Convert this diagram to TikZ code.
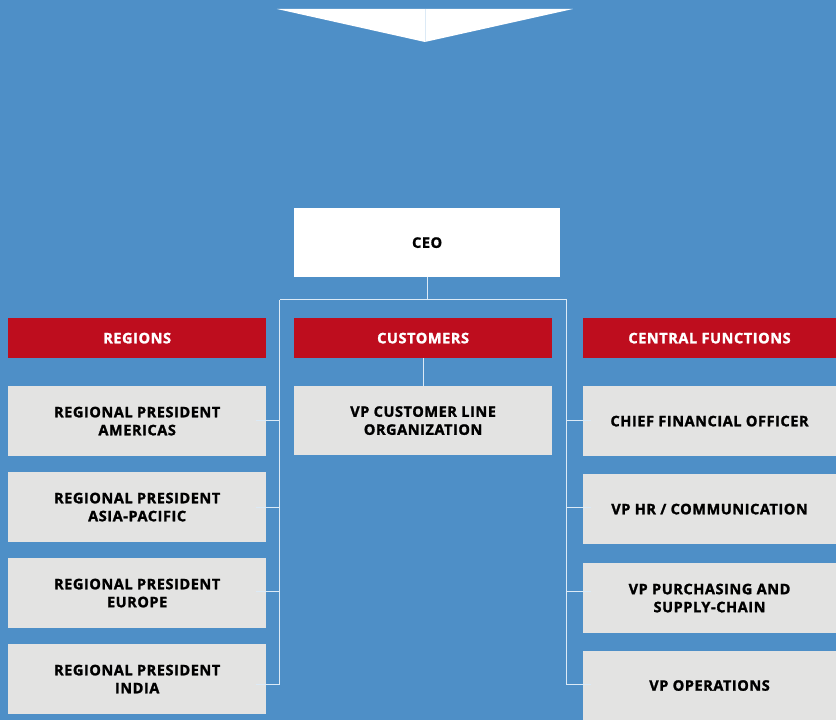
\documentclass[tikz,border=0pt]{standalone}
\usepackage{fontspec}
\newfontfamily\orgfont{Open Sans}[LetterSpace=4,BoldFeatures={FakeBold=1.6}]
\definecolor{bgblue}{HTML}{4E8FC7}
\definecolor{barred}{HTML}{BE0D1E}
\definecolor{boxgrey}{HTML}{E3E3E2}
\definecolor{linkcol}{HTML}{DCEAF6}

\begin{document}
\begin{tikzpicture}[x=1pt,y=-1pt,font=\orgfont\bfseries\fontsize{14.5}{18}\selectfont,align=center,
  box/.style={fill=boxgrey,anchor=north west,minimum width=258pt,minimum height=70pt,inner sep=0pt},
  bar/.style={fill=barred,text=white,anchor=north west,minimum width=258pt,minimum height=40pt,inner sep=0pt},
  link/.style={draw=linkcol,line width=1pt}]
  \fill[bgblue] (0,0) rectangle (836,720);
  % arrow on top
  \fill[white] (277,9) -- (573,9) -- (425,42) -- cycle;
  \draw[linkcol,line width=.6pt] (425,9) -- (425,42);
  % boxes
  \node[box,fill=white,minimum width=266pt,minimum height=69pt] (ceo) at (294,208) {CEO};
  \node[bar] (regions) at (8,318) {REGIONS};
  \node[bar] (customers) at (294,318) {CUSTOMERS};
  \node[bar,minimum width=253pt] (central) at (583,318) {CENTRAL FUNCTIONS};
  \node[box] (amer) at (8,386) {REGIONAL PRESIDENT\\AMERICAS};
  \node[box] (asia) at (8,472) {REGIONAL PRESIDENT\\ASIA-PACIFIC};
  \node[box] (eur) at (8,558) {REGIONAL PRESIDENT\\EUROPE};
  \node[box] (ind) at (8,644) {REGIONAL PRESIDENT\\INDIA};
  \node[box,minimum height=69pt] (custline) at (294,386) {VP CUSTOMER LINE\\ORGANIZATION};
  \node[box,minimum width=253pt] (cfo) at (583,386) {CHIEF FINANCIAL OFFICER};
  \node[box,minimum width=253pt] (hr) at (583,474) {VP HR / COMMUNICATION};
  \node[box,minimum width=253pt] (purch) at (583,563) {VP PURCHASING AND\\SUPPLY-CHAIN};
  \node[box,minimum width=253pt,minimum height=69pt] (ops) at (583,651) {VP OPERATIONS};
  % connectors
  \coordinate (lt) at (280,300);
  \coordinate (rt) at (567,300);
  \draw[link] (ceo.south) -- (ceo.south |- lt);
  \draw[link] (lt) -- (rt);
  \draw[link] (customers.south) -- (custline.north);
  \draw[link] (lt) -- (lt |- 0,685);
  \draw[link] (rt) -- (rt |- 0,685);
  \draw[link] (lt |- 0,421) -- ([xshift=-10pt]amer.east |- 0,421);
  \draw[link] (lt |- 0,508) -- ([xshift=-10pt]asia.east |- 0,508);
  \draw[link] (lt |- 0,592) -- ([xshift=-10pt]eur.east |- 0,592);
  \draw[link] (lt |- 0,685) -- ([xshift=-10pt]ind.east |- 0,685);
  \draw[link] (rt |- 0,421) -- ([xshift=8pt]cfo.west |- 0,421);
  \draw[link] (rt |- 0,508) -- ([xshift=8pt]hr.west |- 0,508);
  \draw[link] (rt |- 0,592) -- ([xshift=8pt]purch.west |- 0,592);
  \draw[link] (rt |- 0,685) -- ([xshift=8pt]ops.west |- 0,685);
\end{tikzpicture}
\end{document}
